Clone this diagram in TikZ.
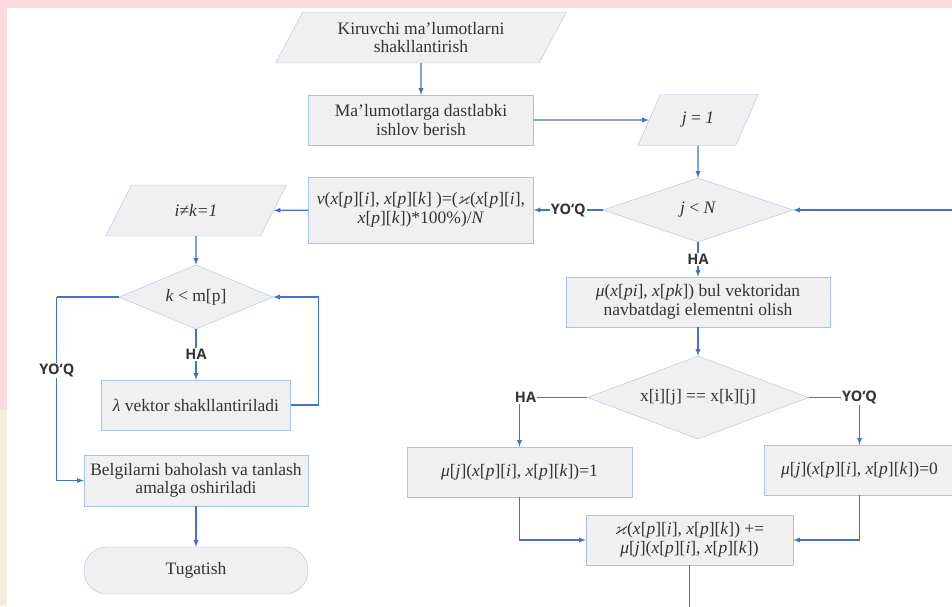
\documentclass[tikz,border=0pt]{standalone}
\usepackage{amssymb}
\usepackage{fontspec}
\setmainfont{Liberation Serif}
\newfontfamily\labelfont{Open Sans}
\usetikzlibrary{shapes.geometric, arrows}

\newcommand{\xp}[1]{\textit{x}[\textit{p}][\textit{#1}]}

\definecolor{boxfill}{HTML}{F0F0F0}
\definecolor{boxline}{HTML}{A9C0EA}
\definecolor{flowblue}{HTML}{4472C4}
\definecolor{textgray}{HTML}{333333}
\definecolor{pinkbg}{HTML}{FADCE0}
\definecolor{creambg}{HTML}{F3EEDC}

\tikzstyle{startstop} = [
    rectangle,
    rounded corners=23pt,
    minimum width=224pt,
    minimum height=47pt,
    draw=boxline,
    fill=boxfill
]
\tikzstyle{inputoutput} = [
    trapezium,
    trapezium left angle=62,
    trapezium right angle=118,
    trapezium stretches=true,
    minimum height=51pt,
    draw=boxline,
    fill=boxfill
]
\tikzstyle{process} = [
    rectangle,
    minimum height=50pt,
    draw=boxline,
    fill=boxfill,
    align=center
]
\tikzstyle{decision} = [
    diamond,
    aspect=2.9,
    inner sep=0pt,
    draw=boxline,
    fill=boxfill
]
\tikzstyle{answer} = [
    font=\labelfont\bfseries\fontsize{14.5}{16}\selectfont,
    text=textgray,
    fill=white,
    inner sep=1pt
]
\tikzstyle{line} = [flowblue, line width=1.3pt]
\tikzstyle{arrow} = [line, ->, >=latex]

\begin{document}
\begin{tikzpicture}[x=1pt, y=-1pt,
    every node/.append style={font=\fontsize{17.5}{18.5}\selectfont, text=textgray}]

% background
\useasboundingbox (0,0) rectangle (952,606);
\fill[pinkbg] (0,0) rectangle (952,606);
\fill[creambg] (0,410) rectangle (7,606);
\fill[white] (7,8) rectangle (952,606);
\clip (7,8) rectangle (952,606);

\node (input) [inputoutput, minimum width=291pt, align=center] at (421,37.5)
{Kiruvchi ma’lumotlarni\\shakllantirish};

\node (prep) [process, minimum width=225pt] at (421,120)
{Ma’lumotlarga dastlabki\\ishlov berish};

\node (jone) [inputoutput, minimum width=121pt] at (698,120)
{\textit{j} = \textit{1}};

\node (jless) [decision, minimum width=190pt, minimum height=64pt] at (698,210)
{\textit{j} < \textit{N}};

\node (nu) [process, minimum width=225pt, minimum height=66pt] at (421,210)
{\textit{ν}(\xp{i}, \xp{k} )=($\varkappa$(\xp{i},\\\xp{k})*100\%)/\textit{N}};

\node (ik) [inputoutput, minimum width=182pt] at (196,210.5)
{\textit{i≠k=1}};

\node (kless) [decision, minimum width=154pt, minimum height=64pt] at (196,297)
{\textit{k} < m[p]};

\node (lambda) [process, minimum width=189pt] at (196,405)
{\textit{λ} vektor shakllantiriladi};

\node (belgi) [process, minimum width=224pt, minimum height=51pt] at (196,480.5)
{Belgilarni baholash va tanlash\\amalga oshiriladi};

\node (stop) [startstop] at (196,570.5) {Tugatish};

\node (muget) [process, minimum width=264pt] at (698,302)
{\textit{μ}(\textit{x}[\textit{pi}], \textit{x}[\textit{pk}]) bul vektoridan\\navbatdagi elementni olish};

\node (equal) [decision, minimum width=221pt, minimum height=83pt] at (698,397.5)
{x[i][j] == x[k][j]};

\node (muone) [process, minimum width=225pt] at (519.5,472)
{\textit{μ}[\textit{j}](\xp{i}, \xp{k})=1};

\node (muzero) [process, minimum width=190pt] at (859.5,470)
{\textit{μ}[\textit{j}](\xp{i}, \xp{k})=0};

\node (kappa) [process, minimum width=207pt] at (689.5,540)
{$\varkappa$(\xp{i}, \xp{k}) +=\\\textit{μ}[\textit{j}](\xp{i}, \xp{k})};

\coordinate (loopin) at (953,210);
\coordinate (down) at (689.5,607);

\draw [arrow] (input) -- (prep);
\draw [arrow] (prep) -- (jone);
\draw [arrow] (jone) -- (jless);
\draw [arrow] (loopin) -- (jless.east);
\draw [arrow] (jless.west) -- node[answer] {YO‘Q} (nu.east);
\draw [arrow] (nu) -- (ik);
\draw [arrow] (ik) -- (kless);
\draw [arrow] (kless) -- node[answer] {HA} (lambda);
\draw [arrow] (lambda.east) -- ++(28,0) |- (kless.east);
\draw [line] (kless.west) -- ++(-62,0) coordinate (kleft);
\draw [arrow] (kleft) |- node[answer, pos=0.2] {YO‘Q} (belgi.west);
\draw [arrow] (belgi) -- (stop);

\draw [arrow] (jless) -- node[answer] {HA} (muget);
\draw [arrow] (muget) -- (equal);
\draw [arrow] (equal.west) -| node[answer, pos=0.5, xshift=6pt] {HA} (muone);
\draw [arrow] (equal.east) -| node[answer, pos=0.5] {YO‘Q} (muzero);
\draw [arrow] (muone.south) |- (kappa.west);
\draw [arrow] (muzero.south) |- (kappa.east);
\draw [line] (kappa) -- (down);

\end{tikzpicture}
\end{document}
